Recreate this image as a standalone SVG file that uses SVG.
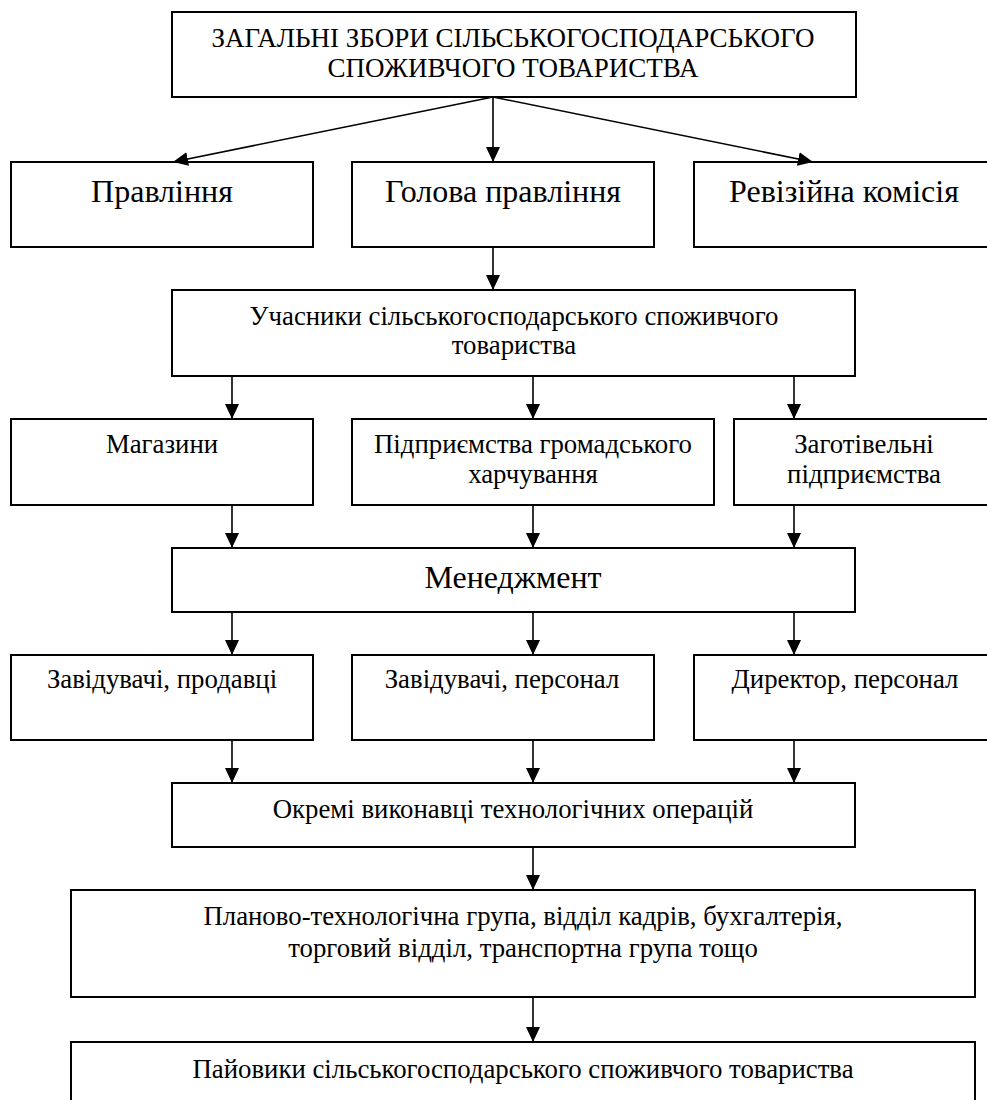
<svg xmlns="http://www.w3.org/2000/svg" width="987" height="1100" viewBox="0 0 987 1100">
<defs>
<style>
.box{fill:#fff;stroke:#000;stroke-width:2}
.t{font-family:'Liberation Serif','Times New Roman',serif;fill:#000;text-anchor:middle}
.s26{font-size:26.8px}
.s32{font-size:32px}
.s27{font-size:27px}
.c{stroke:#000;stroke-width:1.6;fill:none;marker-end:url(#ah)}
</style>
<marker id="ah" viewBox="0 0 15 14" refX="15" refY="7" markerWidth="15" markerHeight="14" markerUnits="userSpaceOnUse" orient="auto">
<path d="M0,0 L15,7 L0,14 z" fill="#000"/>
</marker>
</defs>
<rect width="987" height="1100" fill="#fff"/>

<g id="n-zbory">
<rect class="box" x="172" y="12" width="684" height="85"/>
<text class="t s27" x="513" y="47">ЗАГАЛЬНІ ЗБОРИ СІЛЬСЬКОГОСПОДАРСЬКОГО</text>
<text class="t s27" x="513" y="77">СПОЖИВЧОГО ТОВАРИСТВА</text>
</g>
<g id="n-pravlinnia">
<rect class="box" x="11" y="162" width="302" height="85"/>
<text class="t s32" x="162" y="202">Правління</text>
</g>
<g id="n-holova">
<rect class="box" x="352" y="162" width="302" height="85"/>
<text class="t s32" x="503" y="202">Голова правління</text>
</g>
<g id="n-reviziina">
<rect class="box" x="694" y="162" width="300" height="85"/>
<text class="t s32" x="844" y="202">Ревізійна комісія</text>
</g>
<g id="n-uchasnyky">
<rect class="box" x="172" y="290" width="683" height="86"/>
<text class="t s26" x="514" y="325">Учасники сільськогосподарського споживчого</text>
<text class="t s26" x="514" y="354">товариства</text>
</g>
<g id="n-mahazyny">
<rect class="box" x="11" y="419" width="302" height="86"/>
<text class="t s26" x="162" y="453">Магазини</text>
</g>
<g id="n-pidpryiemstva">
<rect class="box" x="352" y="419" width="362" height="86"/>
<text class="t s26" x="533" y="453">Підприємства громадського</text>
<text class="t s26" x="533" y="483">харчування</text>
</g>
<g id="n-zahotivelni">
<rect class="box" x="734" y="419" width="260" height="86"/>
<text class="t s26" x="864" y="453">Заготівельні</text>
<text class="t s26" x="864" y="483">підприємства</text>
</g>
<g id="n-menedzhment">
<rect class="box" x="172" y="548" width="683" height="64"/>
<text class="t s32" x="513" y="588">Менеджмент</text>
</g>
<g id="n-zavid-prod">
<rect class="box" x="11" y="655" width="302" height="85"/>
<text class="t s26" x="162" y="688">Завідувачі, продавці</text>
</g>
<g id="n-zavid-pers">
<rect class="box" x="352" y="655" width="302" height="85"/>
<text class="t s26" x="502" y="688">Завідувачі, персонал</text>
</g>
<g id="n-dyrektor">
<rect class="box" x="694" y="655" width="300" height="85"/>
<text class="t s26" x="845" y="688">Директор, персонал</text>
</g>
<g id="n-okremi">
<rect class="box" x="172" y="783" width="683" height="64"/>
<text class="t s26" x="513" y="818">Окремі виконавці технологічних операцій</text>
</g>
<g id="n-planovo">
<rect class="box" x="71" y="890" width="904" height="107"/>
<text class="t s26" x="523" y="925">Планово-технологічна група, відділ кадрів, бухгалтерія,</text>
<text class="t s26" x="523" y="957">торговий відділ, транспортна група тощо</text>
</g>
<g id="n-paiovyky">
<rect class="box" x="71" y="1042" width="904" height="70"/>
<text class="t s26" x="523" y="1078">Пайовики сільськогосподарського споживчого товариства</text>
</g>

<g id="connectors">
<line class="c" x1="493" y1="97" x2="173" y2="162"/>
<line class="c" x1="493" y1="97" x2="493" y2="162"/>
<line class="c" x1="493" y1="97" x2="813" y2="162"/>
<line class="c" x1="493" y1="247" x2="493" y2="290"/>
<line class="c" x1="232" y1="376" x2="232" y2="419"/>
<line class="c" x1="533" y1="376" x2="533" y2="419"/>
<line class="c" x1="794" y1="376" x2="794" y2="419"/>
<line class="c" x1="232" y1="505" x2="232" y2="548"/>
<line class="c" x1="533" y1="505" x2="533" y2="548"/>
<line class="c" x1="794" y1="505" x2="794" y2="548"/>
<line class="c" x1="232" y1="612" x2="232" y2="655"/>
<line class="c" x1="533" y1="612" x2="533" y2="655"/>
<line class="c" x1="794" y1="612" x2="794" y2="655"/>
<line class="c" x1="232" y1="740" x2="232" y2="783"/>
<line class="c" x1="533" y1="740" x2="533" y2="783"/>
<line class="c" x1="794" y1="740" x2="794" y2="783"/>
<line class="c" x1="533" y1="847" x2="533" y2="890"/>
<line class="c" x1="533" y1="997" x2="533" y2="1042"/>
</g>
</svg>
